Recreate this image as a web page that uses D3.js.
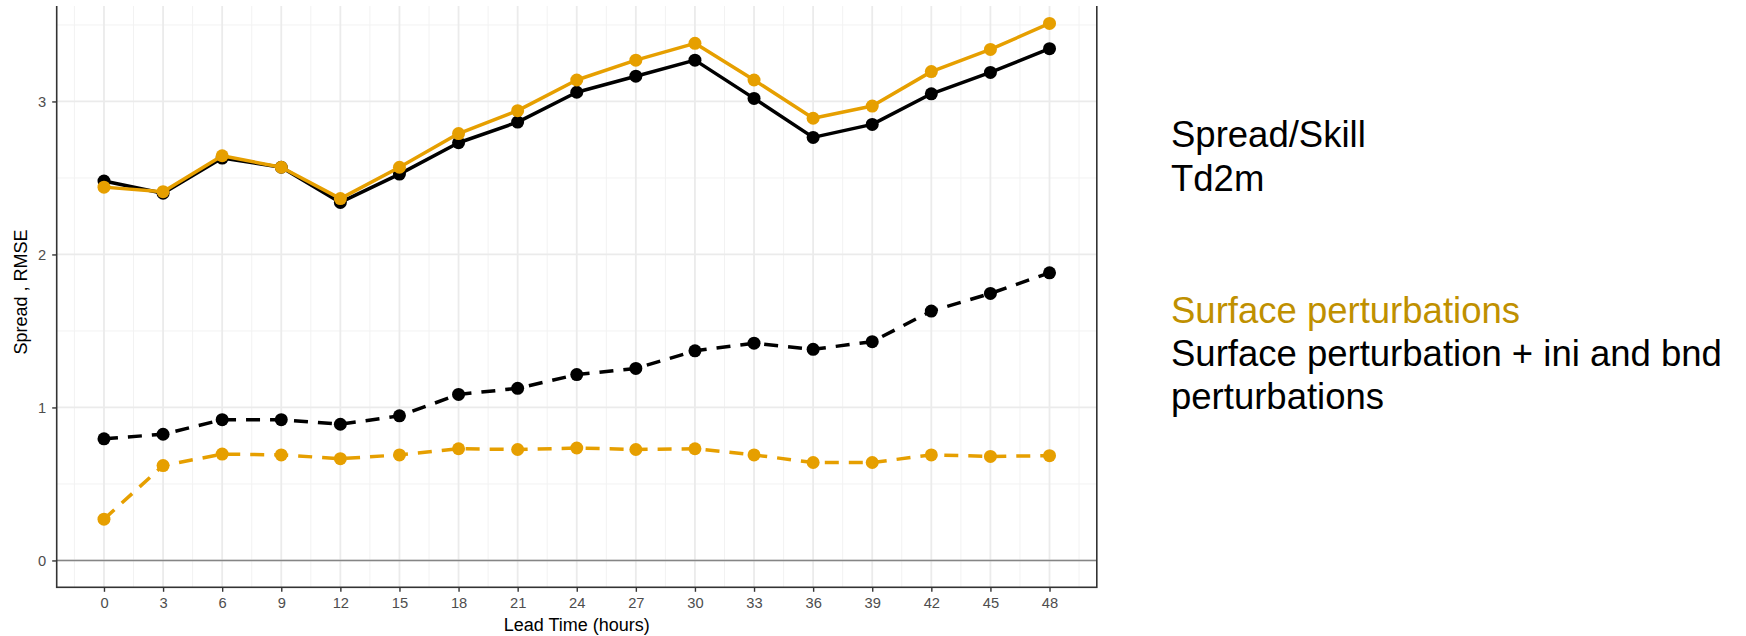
<!DOCTYPE html>
<html>
<head>
<meta charset="utf-8">
<script src="https://cdn.jsdelivr.net/npm/d3@7"></script>
<style>
  html, body { margin: 0; padding: 0; background: #fff; }
  svg { display: block; font-family: "Liberation Sans", Arial, Helvetica, sans-serif; }
</style>
</head>
<body>
<svg id="chart" width="1746" height="636"></svg>
<script>
/****** Spread / skill, Td2m *******/

// lead times (hours)
var leadTime = [0, 3, 6, 9, 12, 15, 18, 21, 24, 27, 30, 33, 36, 39, 42, 45, 48];

// RMSE (solid lines)
var rmseSurface = [2.44, 2.41, 2.645, 2.57, 2.365, 2.57, 2.79, 2.94, 3.14, 3.27, 3.38, 3.14, 2.89, 2.97, 3.195, 3.34, 3.51];
var rmseAll = [2.48, 2.40, 2.63, 2.57, 2.34, 2.525, 2.73, 2.865, 3.06, 3.165, 3.27, 3.02, 2.765, 2.85, 3.05, 3.19, 3.345];

// spread (dashed lines)
var spreadSurface = [0.27, 0.62, 0.695, 0.69, 0.665, 0.69, 0.73, 0.725, 0.735, 0.725, 0.73, 0.69, 0.64, 0.64, 0.69, 0.68, 0.685];
var spreadAll = [0.795, 0.825, 0.92, 0.92, 0.89, 0.945, 1.085, 1.125, 1.215, 1.255, 1.37, 1.42, 1.38, 1.43, 1.63, 1.745, 1.88];

var xTicks = [0, 3, 6, 9, 12, 15, 18, 21, 24, 27, 30, 33, 36, 39, 42, 45, 48];
var yTicks = [0, 1, 2, 3];

var titleLines = ["Spread/Skill", "Td2m"];
var legendLines = ["Surface perturbations", "Surface perturbation + ini and bnd", "perturbations"];

var orange = "#E69F00";

/** Build the chart **/
function drawChart() {
    var svg = d3.select("#chart");
    var left = 56.7, right = 1096.8, bottom = 587.3;

    // ggplot style 5% expansion
    var xr = d3.extent(leadTime);
    var xpad = (xr[1] - xr[0]) * 0.05;
    var all = rmseSurface.concat(rmseAll, spreadSurface, spreadAll, [0]);
    var yr = d3.extent(all);
    var ypad = (yr[1] - yr[0]) * 0.05;

    var x = d3.scaleLinear().domain([xr[0] - xpad, xr[1] + xpad]).range([left, right]);
    var y = d3.scaleLinear().domain([yr[0] - ypad, yr[1] + ypad]).range([bottom, bottom - 153 * (yr[1] - yr[0] + 2 * ypad)]);

    // the reference is cut at the top
    svg.append("defs").append("clipPath").attr("id", "clip")
        .append("rect").attr("x", 0).attr("y", 6).attr("width", 1746).attr("height", 630);

    var g = svg.append("g").attr("clip-path", "url(#clip)");

    var xMinor = xTicks.map(function (d) { return d - 1.5; }).concat([49.5]);
    var yMinor = [0.5, 1.5, 2.5, 3.5];

    // minor grid
    g.selectAll(".xminor").data(xMinor).enter().append("line")
        .attr("x1", function (d) { return x(d); }).attr("x2", function (d) { return x(d); })
        .attr("y1", y.range()[1]).attr("y2", bottom)
        .attr("stroke", "#F2F2F2").attr("stroke-width", 1);
    g.selectAll(".yminor").data(yMinor).enter().append("line")
        .attr("x1", left).attr("x2", right)
        .attr("y1", function (d) { return y(d); }).attr("y2", function (d) { return y(d); })
        .attr("stroke", "#F2F2F2").attr("stroke-width", 1);

    // major grid
    g.selectAll(".xmajor").data(xTicks).enter().append("line")
        .attr("x1", function (d) { return x(d); }).attr("x2", function (d) { return x(d); })
        .attr("y1", y.range()[1]).attr("y2", bottom)
        .attr("stroke", "#EBEBEB").attr("stroke-width", 1.8);
    g.selectAll(".ymajor").data(yTicks).enter().append("line")
        .attr("x1", left).attr("x2", right)
        .attr("y1", function (d) { return y(d); }).attr("y2", function (d) { return y(d); })
        .attr("stroke", "#EBEBEB").attr("stroke-width", 1.8);

    // zero line
    g.append("line")
        .attr("x1", left).attr("x2", right)
        .attr("y1", y(0)).attr("y2", y(0))
        .attr("stroke", "#858585").attr("stroke-width", 1.6);

    var series = [
        {v: rmseAll, color: "#000", dash: null},
        {v: spreadAll, color: "#000", dash: "14,10"},
        {v: rmseSurface, color: orange, dash: null},
        {v: spreadSurface, color: orange, dash: "14,10"}
    ];

    var line = d3.line()
        .x(function (d, i) { return x(leadTime[i]); })
        .y(function (d) { return y(d); });

    series.forEach(function (s) {
        g.append("path")
            .datum(s.v)
            .attr("fill", "none")
            .attr("stroke", s.color)
            .attr("stroke-width", 3.5)
            .attr("stroke-dasharray", s.dash)
            .attr("stroke-linejoin", "round")
            .attr("d", line);
        g.selectAll(null).data(s.v).enter().append("circle")
            .attr("cx", function (d, i) { return x(leadTime[i]); })
            .attr("cy", function (d) { return y(d); })
            .attr("r", 6.5)
            .attr("fill", s.color);
    });

    // panel border
    g.append("rect")
        .attr("x", left).attr("y", y.range()[1])
        .attr("width", right - left).attr("height", bottom - y.range()[1])
        .attr("fill", "none").attr("stroke", "#333333").attr("stroke-width", 1.6);

    // axes
    var xAxis = svg.append("g")
        .attr("transform", "translate(0," + bottom + ")")
        .call(d3.axisBottom(x).tickValues(xTicks).tickSize(4.5).tickPadding(6).tickFormat(d3.format("d")));
    var yAxis = svg.append("g")
        .attr("transform", "translate(" + left + ",0)")
        .call(d3.axisLeft(y).tickValues(yTicks).tickSize(4.5).tickPadding(6).tickFormat(d3.format("d")));

    [xAxis, yAxis].forEach(function (a) {
        a.select(".domain").remove();
        a.selectAll(".tick line").attr("stroke", "#333333").attr("stroke-width", 1.4);
        a.selectAll(".tick text")
            .attr("fill", "#4D4D4D")
            .style("font-size", "14.7px")
            .style("font-family", "'Liberation Sans', Arial, sans-serif");
    });

    svg.append("text")
        .attr("x", (left + right) / 2).attr("y", 631)
        .attr("text-anchor", "middle")
        .style("font-size", "18px")
        .text("Lead Time (hours)");

    svg.append("text")
        .attr("transform", "translate(26.5," + ((y.range()[1] + bottom) / 2) + ") rotate(-90)")
        .attr("text-anchor", "middle")
        .style("font-size", "18px")
        .text("Spread , RMSE");

    // text on the right
    var tx = 1171;
    svg.selectAll(".title").data(titleLines).enter().append("text")
        .attr("x", tx)
        .attr("y", function (d, i) { return 146.7 + i * 44; })
        .style("font-size", "36.5px")
        .attr("fill", "#000")
        .text(function (d) { return d; });

    svg.selectAll(".legend").data(legendLines).enter().append("text")
        .attr("x", tx)
        .attr("y", function (d, i) { return 322.7 + i * 43; })
        .style("font-size", "36.5px")
        .attr("fill", function (d, i) { return i === 0 ? "#BF9000" : "#000"; })
        .text(function (d) { return d; });
}

drawChart();
</script>
</body>
</html>
